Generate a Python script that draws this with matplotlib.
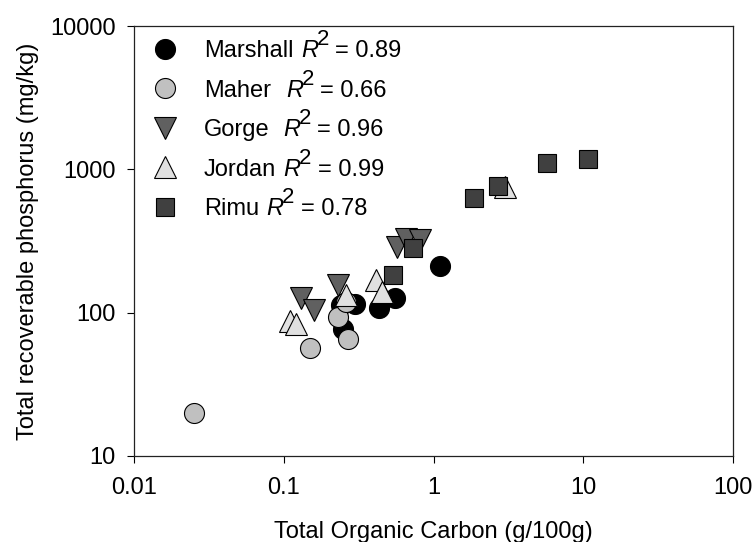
import matplotlib
matplotlib.use('Agg')
import matplotlib.pyplot as plt
from matplotlib.lines import Line2D

plt.rcParams['font.family'] = ['Liberation Sans', 'DejaVu Sans']

# total organic carbon (g/100g) vs total recoverable P (mg/kg) per site
marshall_toc = [0.24, 0.30, 0.25, 0.43, 0.55, 1.1]
marshall_p = [113, 115, 77, 107, 126, 213]
maher_toc = [0.025, 0.15, 0.27, 0.23, 0.26]
maher_p = [20, 57, 66, 93, 119]
gorge_toc = [0.13, 0.16, 0.23, 0.57, 0.66, 0.81]
gorge_p = [126, 105, 156, 287, 327, 323]
jordan_toc = [0.11, 0.12, 0.26, 0.41, 0.45, 3.0]
jordan_p = [87, 84, 133, 169, 140, 750]
rimu_toc = [0.54, 0.73, 1.85, 2.7, 5.7, 10.8]
rimu_p = [183, 281, 635, 770, 1100, 1180]

sites = ['Marshall', 'Maher', 'Gorge', 'Jordan', 'Rimu']
r2 = ['0.89', '0.66', '0.96', '0.99', '0.78']
name_gap = [5.5, 11.0, 10.0, 5.5, 5.5]   # points between site name and R
x_ticks = [0.01, 0.1, 1, 10, 100]
x_ticklabels = ['0.01', '0.1', '1', '10', '100']
y_ticks = [10, 100, 1000, 10000]
y_ticklabels = ['10', '100', '1000', '10000']

series = [
    (marshall_toc, marshall_p, 'o', 'black', 14.4),
    (maher_toc, maher_p, 'o', '#c0c0c0', 14.4),
    (gorge_toc, gorge_p, 'v', '#606060', 15.5),
    (jordan_toc, jordan_p, '^', '#e0e0e0', 15.5),
    (rimu_toc, rimu_p, 's', '#404040', 13.0),
]

fig = plt.figure(figsize=(7.55, 5.42), dpi=100)
ax = fig.add_axes([134 / 755, 1 - 456 / 542, 599 / 755, 430 / 542])

handles = []
for (xs, ys, mk, col, ms), name in zip(series, sites):
    ax.plot(xs, ys, linestyle='none', marker=mk, markersize=ms,
            markerfacecolor=col, markeredgecolor='black', markeredgewidth=0.8)
    handles.append(Line2D([], [], linestyle='none', marker=mk, markersize=ms,
                          markerfacecolor=col, markeredgecolor='black',
                          markeredgewidth=0.8, label=name))

ax.set_xscale('log')
ax.set_yscale('log')
ax.set_xlim(0.01, 100)
ax.set_ylim(10, 10000)
ax.set_xticks(x_ticks)
ax.set_xticklabels(x_ticklabels)
ax.set_yticks(y_ticks)
ax.set_yticklabels(y_ticklabels)
ax.minorticks_off()
ax.tick_params(axis='both', which='major', direction='out', length=5,
               width=0.8, labelsize=17, pad=8)
ax.tick_params(axis='x', pad=10)
for sp in ax.spines.values():
    sp.set_linewidth(0.9)
    sp.set_color('#222222')

ax.set_xlabel('Total Organic Carbon (g/100g)', fontsize=17, labelpad=16)
ax.set_ylabel('Total recoverable phosphorus (mg/kg)', fontsize=17, labelpad=8)

leg = ax.legend(handles=handles, loc='upper left', frameon=False, fontsize=17,
                labelspacing=0.74, handletextpad=0.95, borderaxespad=0.3,
                handlelength=1.4, borderpad=0.3)

# R^2 pieces after each site name: italic R, full-size raised 2, then value
for txt, gap, val in zip(leg.get_texts(), name_gap, r2):
    r_txt = ax.annotate('R', xy=(1, 0), xycoords=txt, xytext=(gap, 0),
                        textcoords='offset points', va='bottom', ha='left',
                        fontsize=17, style='italic', zorder=6)
    sup = ax.annotate('2', xy=(1, 0), xycoords=r_txt, xytext=(-1.0, 8.5),
                      textcoords='offset points', va='bottom', ha='left',
                      fontsize=16, zorder=7)
    ax.annotate('= ' + val, xy=(1, 0), xycoords=sup, xytext=(4.5, -8.5),
                textcoords='offset points', va='bottom', ha='left',
                fontsize=17, zorder=8)

fig.savefig('out.png', dpi=100)
